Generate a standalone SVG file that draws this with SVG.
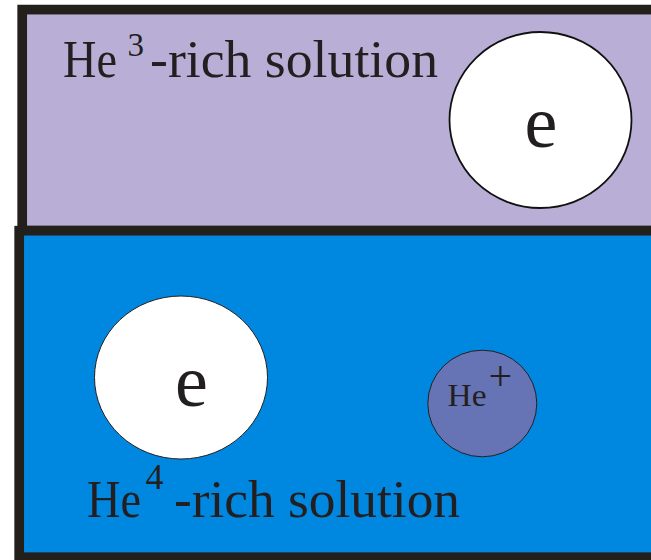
<svg xmlns="http://www.w3.org/2000/svg" width="651" height="560" viewBox="0 0 651 560">
  <style>
    .frame { stroke: #231F1A; stroke-width: 9.7; }
    text { font-family: 'Liberation Serif', 'Times New Roman', 'DejaVu Serif', serif; fill: #231F20; }
  </style>
  <rect x="0" y="0" width="651" height="560" fill="#FFFFFF"/>
  <g id="he3-region">
    <rect class="frame" x="22.2" y="9.6" width="700" height="221" fill="#B9AFD6"/>
    <text font-family="Liberation Serif, serif" font-size="52"><tspan x="63" y="77.3" textLength="54" lengthAdjust="spacingAndGlyphs">He</tspan><tspan x="127.5" y="56" font-size="33">3</tspan><tspan x="150" y="77.3" textLength="288" lengthAdjust="spacingAndGlyphs">-rich solution</tspan></text>
  </g>
  <g id="he4-region">
    <rect class="frame" x="19.2" y="230.7" width="700" height="326.5" fill="#0088E0"/>
    <text font-family="Liberation Serif, serif" font-size="52"><tspan x="87" y="517" textLength="54" lengthAdjust="spacingAndGlyphs">He</tspan><tspan x="145.5" y="489.3" font-size="36">4</tspan><tspan x="174" y="517" textLength="286" lengthAdjust="spacingAndGlyphs">-rich solution</tspan></text>
  </g>
  <g id="electron-top">
    <ellipse cx="540.5" cy="120" rx="91" ry="88" fill="#FFFFFF" stroke="#111111" stroke-width="1.8"/>
    <text font-family="Liberation Serif, serif" x="541" y="147.3" font-size="74" text-anchor="middle" fill="#000000">e</text>
  </g>
  <g id="electron-bottom">
    <ellipse cx="181" cy="377.5" rx="86.5" ry="81.5" fill="#FFFFFF" stroke="#231F20" stroke-width="1"/>
    <text font-family="Liberation Serif, serif" x="191.5" y="405.7" font-size="74" text-anchor="middle">e</text>
  </g>
  <g id="he-ion">
    <ellipse cx="482.3" cy="403.5" rx="54.5" ry="53.3" fill="#6674B5" stroke="#231F20" stroke-width="1"/>
    <text font-family="Liberation Serif, serif" font-size="31"><tspan x="447.5" y="405.7" textLength="39" lengthAdjust="spacingAndGlyphs">He</tspan><tspan x="488.5" y="389.5" font-size="42">+</tspan></text>
  </g>
</svg>
